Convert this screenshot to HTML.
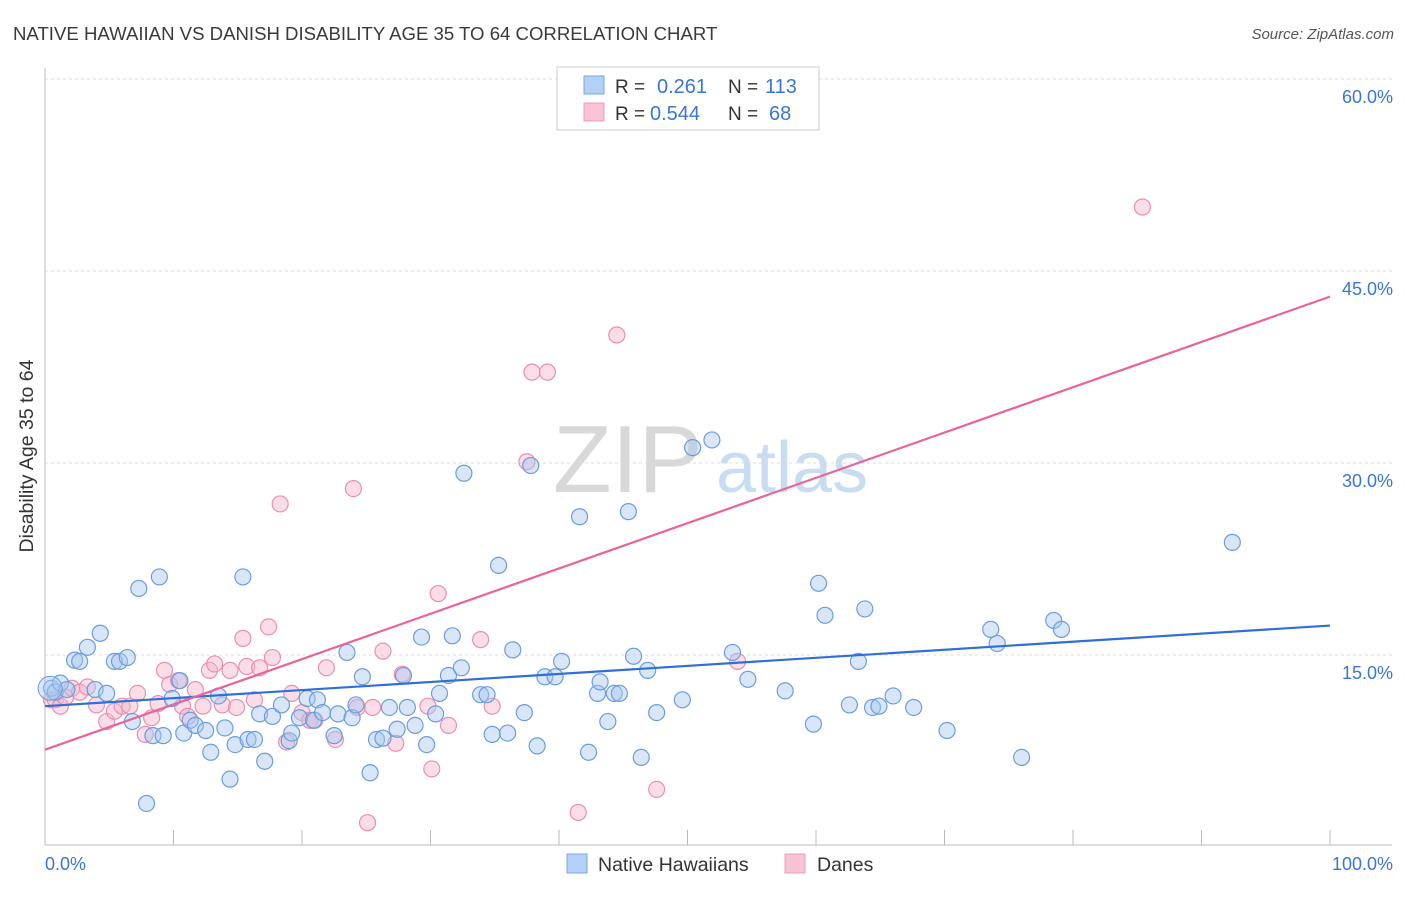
<!DOCTYPE html>
<html><head><meta charset="utf-8"><style>
body{margin:0;background:#fff;font-family:"Liberation Sans",sans-serif;}
svg text{font-family:"Liberation Sans",sans-serif;}
</style></head><body>
<svg id="chart" width="1406" height="892" xmlns="http://www.w3.org/2000/svg">
<text x="13" y="40" font-size="18.6" fill="#3a3a3a">NATIVE HAWAIIAN VS DANISH DISABILITY AGE 35 TO 64 CORRELATION CHART</text>
<text x="1394" y="39" font-size="15" fill="#555" text-anchor="end" font-style="italic">Source: ZipAtlas.com</text>
<g>
<text x="553" y="492" font-size="96" fill="#d8d8d8" font-family="Liberation Serif, serif">ZIP</text>
<text x="716" y="492" font-size="72" fill="#c8dcf2">atlas</text>
</g>
<text transform="translate(33,456) rotate(-90)" font-size="19.5" fill="#333" text-anchor="middle">Disability Age 35 to 64</text>
<g id="grid"></g><g id="axes"></g><g id="pts"></g><g id="lines"></g>
<g>
<rect x="557" y="67" width="262" height="63" fill="#fff" stroke="#ccc"/>
<rect x="584" y="76" width="20" height="18" fill="#b3d0f5" stroke="#7aa8e6"/>
<rect x="584" y="103" width="20" height="18" fill="#f8c3d4" stroke="#ec9cb8"/>
<text x="615" y="93" font-size="19" fill="#333">R =</text><text x="657" y="93" font-size="20" fill="#3a76d6">0.261</text>
<text x="728" y="93" font-size="19" fill="#333">N =</text><text x="765" y="93" font-size="20" fill="#3a76d6">113</text>
<text x="615" y="120" font-size="19" fill="#333">R =</text><text x="650" y="120" font-size="20" fill="#3a76d6">0.544</text>
<text x="728" y="120" font-size="19" fill="#333">N =</text><text x="769" y="120" font-size="20" fill="#3a76d6">68</text>
</g>
<g>
<rect x="567" y="854" width="20" height="19" fill="#b3d0f5" stroke="#7aa8e6"/>
<text x="598" y="871" font-size="19.5" fill="#333">Native Hawaiians</text></g>
<g>
<rect x="785" y="854" width="20" height="19" fill="#f8c3d4" stroke="#ec9cb8"/>
<text x="817" y="871" font-size="19.5" fill="#333">Danes</text></g>
</svg>
<script>
const yTicks=[15,30,45,60];
const yTickLabels=["15.0%","30.0%","45.0%","60.0%"];
const xEndLabels=["0.0%","100.0%"];
const blueX=[0.5,0.8,1.2,1.7,2.3,2.7,3.3,3.9,4.3,4.8,5.4,5.8,6.4,6.8,7.3,7.9,8.4,8.9,9.2,9.9,10.5,10.8,11.3,11.7,12.5,12.9,13.5,14.0,14.4,14.8,15.4,15.8,16.3,16.7,17.1,17.7,18.4,19.0,19.2,19.8,20.4,20.9,21.2,21.6,22.5,22.8,23.5,23.9,24.2,24.7,25.3,25.8,26.3,26.8,27.4,27.9,28.2,28.8,29.3,29.7,30.4,30.7,31.4,31.7,32.4,32.6,33.9,34.4,34.8,35.3,36.0,36.4,37.3,37.8,38.3,38.9,39.7,40.2,41.6,42.3,43.0,43.2,43.8,44.3,44.7,45.4,45.8,46.4,46.9,47.6,49.6,50.4,51.9,53.5,54.7,57.6,59.8,60.2,60.7,62.6,63.3,63.8,64.4,64.9,66.0,67.6,70.2,73.6,74.1,76.0,78.5,79.1,92.4];
const blueY=[12.4,12.1,12.8,12.3,14.6,14.5,15.6,12.3,16.7,12.0,14.5,14.5,14.8,9.8,20.2,3.4,8.7,21.1,8.7,11.6,13.0,8.9,9.9,9.5,9.1,7.4,11.8,9.3,5.3,8.0,21.1,8.4,8.4,10.4,6.7,10.2,11.1,8.3,8.9,10.1,11.6,9.9,11.5,10.5,8.7,10.4,15.2,10.1,11.1,13.3,5.8,8.4,8.5,10.9,9.2,13.4,10.9,9.5,16.4,8.0,10.4,12.0,13.4,16.5,14.0,29.2,11.9,11.9,8.8,22.0,8.9,15.4,10.5,29.8,7.9,13.3,13.3,14.5,25.8,7.4,12.0,12.9,9.8,12.0,12.0,26.2,14.9,7.0,13.8,10.5,11.5,31.2,31.8,15.2,13.1,12.2,9.6,20.6,18.1,11.1,14.5,18.6,10.9,11.0,11.8,10.9,9.1,17.0,15.9,7.0,17.7,17.0,23.8];
const pinkX=[0.5,0.8,1.2,1.6,2.1,2.7,3.3,4.0,4.8,5.4,6.0,6.6,7.2,7.8,8.3,8.8,9.3,9.7,10.4,10.7,11.1,11.7,12.3,12.8,13.2,13.8,14.4,14.9,15.4,15.7,16.3,16.7,17.4,17.7,18.3,18.8,19.2,20.0,20.6,21.0,21.9,22.6,24.0,24.3,25.1,25.5,26.3,27.3,27.8,29.8,30.1,30.6,31.4,33.9,34.8,37.5,37.9,39.1,41.5,44.5,47.6,53.9,85.4];
const pinkY=[11.5,11.5,11.0,11.7,12.4,12.1,12.5,11.1,9.8,10.6,11.0,11.0,12.0,8.8,10.1,11.2,13.8,12.7,13.0,11.0,10.2,12.3,11.0,13.8,14.3,11.1,13.8,10.9,16.3,14.1,11.5,14.0,17.2,14.8,26.8,8.2,12.0,10.5,9.9,9.9,14.0,8.4,28.0,10.9,1.9,10.9,15.3,8.1,13.5,11.0,6.1,19.8,9.5,16.2,11.0,30.1,37.1,37.1,2.7,40.0,4.5,14.5,50.0];
const blueLine=[11.0,17.3];
const pinkLine=[7.6,43.0];
const NS="http://www.w3.org/2000/svg";
const X0=45,X1=1330,YB=847,PX=12.8;
function sx(v){return X0+(X1-X0)*v/100;}
function sy(v){return YB-v*PX;}
function mk(tag,attrs,parent){const e=document.createElementNS(NS,tag);for(const k in attrs)e.setAttribute(k,attrs[k]);parent.appendChild(e);return e;}
const grid=document.getElementById('grid'),axes=document.getElementById('axes'),pts=document.getElementById('pts'),lines=document.getElementById('lines');
yTicks.forEach((t,i)=>{
 const l=mk('line',{x1:45,x2:1392,y1:sy(t),y2:sy(t),stroke:'#ddd','stroke-dasharray':'3,3'},grid);
 
 
 const tx=mk('text',{x:1393,y:sy(t)+24,'font-size':18,fill:'#3a76d6','text-anchor':'end'},axes);
 tx.textContent=yTickLabels[i];
 
 
});
const ax=mk('line',{x1:45,x2:1392,y1:845,y2:845,stroke:'#bbb'},axes);


const ay=mk('line',{x1:45,x2:45,y1:68,y2:845,stroke:'#bbb'},axes);


for(let i=1;i<=10;i++){const t=mk('line',{x1:sx(i*10),x2:sx(i*10),y1:830,y2:845,stroke:'#bbb'},axes);
 
 }
const xl0=mk('text',{x:45,y:870,'font-size':18,fill:'#3a76d6'},axes);xl0.textContent=xEndLabels[0];


const xl1=mk('text',{x:1393,y:870,'font-size':18,fill:'#3a76d6','text-anchor':'end'},axes);xl1.textContent=xEndLabels[1];


function scatter(xs,ys,fill,stroke,name){xs.forEach((x,i)=>{
 const c=mk('circle',{cx:sx(x),cy:sy(ys[i]),r:8,fill:fill,'fill-opacity':0.45,stroke:stroke,'stroke-width':1.2},pts);
 
 });}
scatter(pinkX,pinkY,'#f5b3c9','#e890b0','point-danes');
scatter(blueX,blueY,'#a8c8f0','#6a9de0','point-native-hawaiians');
const big=mk('circle',{cx:sx(0.4),cy:sy(12.4),r:12,fill:'#a8c8f0','fill-opacity':0.45,stroke:'#6a9de0'},pts);


const bl=mk('line',{x1:sx(0),y1:sy(blueLine[0]),x2:sx(100),y2:sy(blueLine[1]),stroke:'#2f6fd6','stroke-width':2.2},lines);


const pl=mk('line',{x1:sx(0),y1:sy(pinkLine[0]),x2:sx(100),y2:sy(pinkLine[1]),stroke:'#e8649a','stroke-width':2.2},lines);


</script>
</body></html>
